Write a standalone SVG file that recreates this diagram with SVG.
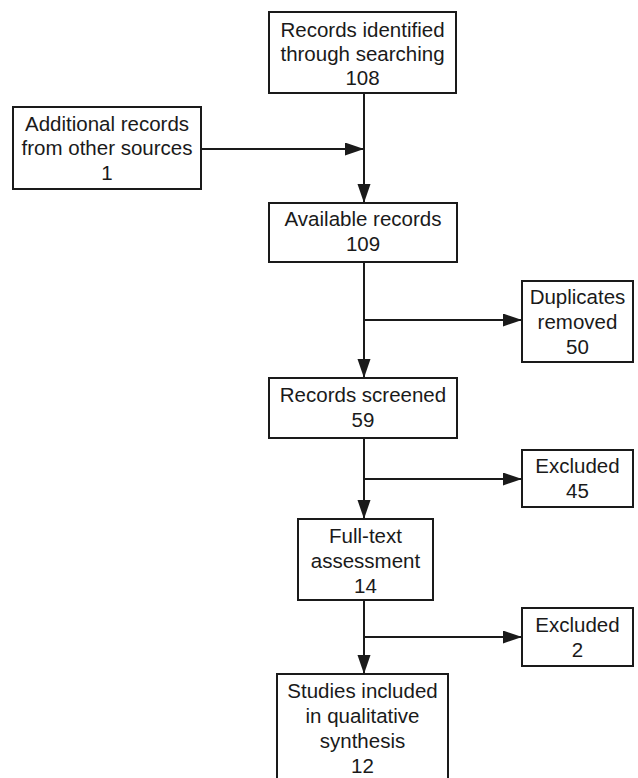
<svg xmlns="http://www.w3.org/2000/svg" width="638" height="778" viewBox="0 0 638 778">
<style>
.box{fill:#fff;stroke:#1a1a1a;stroke-width:2}
.t{font-family:"Liberation Sans",Arial,sans-serif;font-size:20.5px;fill:#1a1a1a;text-anchor:middle}
.c{stroke:#1a1a1a;stroke-width:2;fill:none}
</style>
<defs>
<marker id="ah" markerUnits="userSpaceOnUse" markerWidth="20" markerHeight="14" refX="19" refY="6.5" orient="auto">
<path d="M0,0 L19,6.5 L0,13 Z" fill="#1a1a1a"/>
</marker>
</defs>
<rect width="638" height="778" fill="#fff"/>
<g id="connectors">
<line class="c" x1="364" y1="93" x2="364" y2="203" marker-end="url(#ah)"/>
<line class="c" x1="201" y1="149" x2="364" y2="149" marker-end="url(#ah)"/>
<line class="c" x1="364" y1="262" x2="364" y2="378" marker-end="url(#ah)"/>
<line class="c" x1="364" y1="320" x2="522" y2="320" marker-end="url(#ah)"/>
<line class="c" x1="364" y1="438" x2="364" y2="519" marker-end="url(#ah)"/>
<line class="c" x1="364" y1="479" x2="522" y2="479" marker-end="url(#ah)"/>
<line class="c" x1="364" y1="600" x2="364" y2="674" marker-end="url(#ah)"/>
<line class="c" x1="364" y1="637" x2="522" y2="637" marker-end="url(#ah)"/>
</g>
<g id="identified">
<rect class="box" x="269" y="12" width="187" height="81"/>
<text class="t" x="362.5" y="37">Records identified</text>
<text class="t" x="362.5" y="61">through searching</text>
<text class="t" x="362.5" y="85">108</text>
</g>
<g id="additional">
<rect class="box" x="13" y="107" width="188" height="82"/>
<text class="t" x="107" y="131">Additional records</text>
<text class="t" x="107" y="155">from other sources</text>
<text class="t" x="107" y="180">1</text>
</g>
<g id="available">
<rect class="box" x="269" y="203" width="188" height="59"/>
<text class="t" x="363" y="226">Available records</text>
<text class="t" x="363" y="251">109</text>
</g>
<g id="duplicates">
<rect class="box" x="522" y="281" width="111" height="81"/>
<text class="t" x="577.5" y="304">Duplicates</text>
<text class="t" x="577.5" y="329">removed</text>
<text class="t" x="577.5" y="354">50</text>
</g>
<g id="screened">
<rect class="box" x="269" y="378" width="188" height="60"/>
<text class="t" x="363" y="402">Records screened</text>
<text class="t" x="363" y="427">59</text>
</g>
<g id="excluded1">
<rect class="box" x="522" y="450" width="111" height="57"/>
<text class="t" x="577.5" y="473">Excluded</text>
<text class="t" x="577.5" y="498">45</text>
</g>
<g id="fulltext">
<rect class="box" x="298" y="519" width="135" height="81"/>
<text class="t" x="365.5" y="543">Full-text</text>
<text class="t" x="365.5" y="568">assessment</text>
<text class="t" x="365.5" y="593">14</text>
</g>
<g id="excluded2">
<rect class="box" x="522" y="608" width="111" height="58"/>
<text class="t" x="577.5" y="632">Excluded</text>
<text class="t" x="577.5" y="657">2</text>
</g>
<g id="included">
<rect class="box" x="277" y="674" width="171" height="110"/>
<text class="t" x="362.5" y="698">Studies included</text>
<text class="t" x="362.5" y="723">in qualitative</text>
<text class="t" x="362.5" y="748">synthesis</text>
<text class="t" x="362.5" y="773">12</text>
</g>
</svg>
